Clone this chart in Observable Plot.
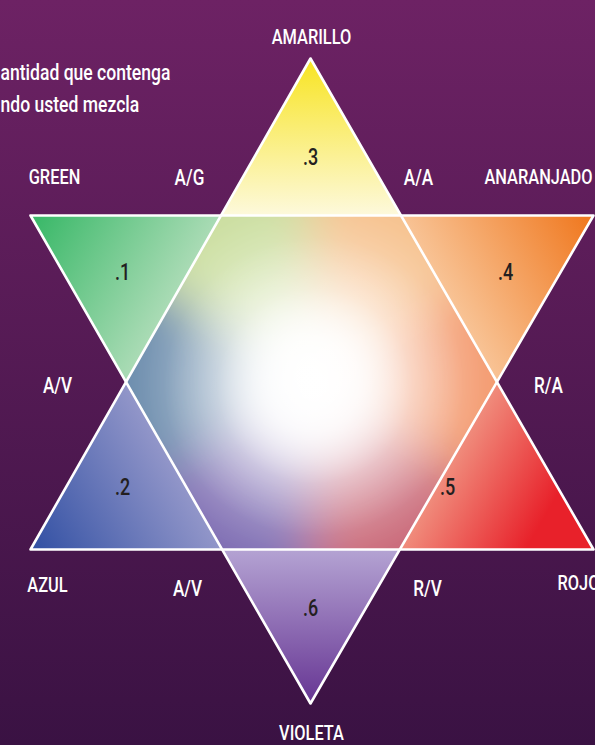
<!DOCTYPE html>
<html>
<head>
<meta charset="utf-8">
<script src="https://cdn.jsdelivr.net/npm/d3@7"></script>
<script src="https://cdn.jsdelivr.net/npm/@observablehq/plot@0.6"></script>
<style>
html, body { margin: 0; padding: 0; width: 595px; height: 745px; overflow: hidden; background: #3a1243; }
#chart svg { display: block; }
</style>
</head>
<body>
<div id="chart"></div>
<script>
// ---------- data ----------
const introLines = ["antidad que contenga", "ndo usted mezcla"];
const tipNames  = ["AMARILLO", "ANARANJADO", "ROJO", "VIOLETA", "AZUL", "GREEN"];
const tipShares = [".3", ".4", ".5", ".6", ".2", ".1"];
const mixNames  = ["A/G", "A/A", "R/A", "R/V", "A/V", "A/V"];
// the two big triangles of the star (chart units)
const upTriangle   = [{x: 310, y: 58}, {x: 593, y: 549}, {x: 30, y: 549}];
const downTriangle = [{x: 30, y: 215}, {x: 593, y: 215}, {x: 310, y: 703}];

// ---------- styles ----------
const tipColors   = ["#f8e52a", "#f07a22", "#e8212a", "#6a3a96", "#3653a5", "#3cb96a"];
const paleColors  = ["#fdf9dc", "#f8c395", "#f08c7c", "#b4a3d3", "#9296c9", "#aadbb5"];
const tipHold     = [0.05, 0.05, 0.35, 0.05, 0.05, 0.05];
const blendColors = ["#c9dd9c", "#f6c08a", "#f3976a", "#c86474", "#7a68b0", "#6688aa"];
const squeeze = 0.78; // condensed lettering

// ---------- layout of labels ----------
const tipNameAt  = [[311, 37, "middle"], [538, 177, "middle"], [557, 583, "start"], [311, 733, "middle"], [47, 585, "middle"], [54, 177, "middle"]];
const tipShareAt = [[310, 157], [505, 272], [447, 487], [310, 608], [122, 487], [122, 272]];
const mixAt      = [[189, 177], [418, 177], [548, 385], [427, 588], [187, 588], [57, 385]];
const introAt    = [[0, 72], [0, 104]];

// ---------- geometry derived from the two triangles ----------
function intersect([p1, p2], [p3, p4]) {
  const d = (p1.x - p2.x) * (p3.y - p4.y) - (p1.y - p2.y) * (p3.x - p4.x);
  const t = ((p1.x - p3.x) * (p3.y - p4.y) - (p1.y - p3.y) * (p3.x - p4.x)) / d;
  return {x: p1.x + t * (p2.x - p1.x), y: p1.y + t * (p2.y - p1.y)};
}
const [u0, u1, u2] = upTriangle, [d0, d1, d2] = downTriangle;
const U0 = [u0, u1], U1 = [u1, u2], U2 = [u2, u0];
const D0 = [d0, d1], D1 = [d1, d2], D2 = [d2, d0];
const hexagon = [intersect(U2, D0), intersect(U0, D0), intersect(U0, D1), intersect(U1, D1), intersect(U1, D2), intersect(U2, D2)];
const tips = [u0, d1, u1, d2, u2, d0];
const tipTriangles = tips.map((t, i) => [t, hexagon[i], hexagon[(i + 1) % 6]]);
const center = {x: d3.mean(hexagon, d => d.x), y: d3.mean(hexagon, d => d.y)};
const mid = (a, b) => ({x: (a.x + b.x) / 2, y: (a.y + b.y) / 2});
const ext = (p, k = 1.6) => ({x: center.x + k * (p.x - center.x), y: center.y + k * (p.y - center.y)});
const wedges = hexagon.flatMap((v, i) => {
  const prev = hexagon[(i + 5) % 6], next = hexagon[(i + 1) % 6];
  return [center, ext(mid(prev, v)), ext(v), ext(mid(v, next))].map(p => ({...p, id: "v" + i}));
});

const W = 595, H = 745;
const font = "Roboto, 'Noto Sans', sans-serif";

const chart = Plot.plot({
  width: W, height: H,
  margin: 0,
  x: {domain: [0, W], range: [0, W], axis: null},
  y: {domain: [0, H], range: [0, H], axis: null},
  color: {domain: hexagon.map((d, i) => "v" + i), range: hexagon.map((d, i) => `url(#wedge${i})`)},
  style: {background: "linear-gradient(#6d2264, #3a1243)", overflow: "hidden"},
  marks: [
    // outer points of the star
    ...tipTriangles.map((tri, i) => Plot.line(tri, {x: "x", y: "y", curve: "linear-closed", fill: `url(#tip${i})`, stroke: "none"})),
    // center hexagon: white base, blended colours fading to white
    Plot.line(hexagon, {x: "x", y: "y", curve: "linear-closed", fill: "white", stroke: "none"}),
    Plot.line(wedges, {x: "x", y: "y", z: "id", fill: "id", curve: "linear-closed", stroke: "none", ariaDescription: "hexblend"}),
    Plot.line(hexagon, {x: "x", y: "y", curve: "linear-closed", fill: "url(#glow)", stroke: "none"}),
    // white outlines
    Plot.line(upTriangle, {x: "x", y: "y", curve: "linear-closed", fill: "none", stroke: "white", strokeWidth: 2.6}),
    Plot.line(downTriangle, {x: "x", y: "y", curve: "linear-closed", fill: "none", stroke: "white", strokeWidth: 2.6}),
    // labels
    Plot.text(tipNames, {x: (d, i) => tipNameAt[i][0], y: (d, i) => tipNameAt[i][1], text: d => d,
      textAnchor: "middle", filter: (d, i) => tipNameAt[i][2] === "middle", fill: "white", fontSize: 21, fontWeight: 500, fontFamily: font}),
    Plot.text(tipNames, {x: (d, i) => tipNameAt[i][0], y: (d, i) => tipNameAt[i][1], text: d => d,
      textAnchor: "start", filter: (d, i) => tipNameAt[i][2] === "start", fill: "white", fontSize: 21, fontWeight: 500, fontFamily: font}),
    Plot.text(mixNames, {x: (d, i) => mixAt[i][0], y: (d, i) => mixAt[i][1], text: d => d,
      fill: "white", fontSize: 22, fontWeight: 500, fontFamily: font}),
    Plot.text(tipShares, {x: (d, i) => tipShareAt[i][0], y: (d, i) => tipShareAt[i][1], text: d => d,
      fill: "#231f20", fontSize: 23, fontWeight: 500, fontFamily: font}),
    Plot.text(introLines, {x: (d, i) => introAt[i][0], y: (d, i) => introAt[i][1], text: d => d,
      textAnchor: "start", fill: "white", fontSize: 22.5, fontWeight: 500, fontFamily: font})
  ]
});

// ---------- gradients, blur, clip ----------
const sx = chart.scale("x"), sy = chart.scale("y");
const X = d3.scaleLinear(sx.domain, sx.range), Y = d3.scaleLinear(sy.domain, sy.range);
const svg = d3.select(chart);
const defs = svg.insert("defs", ":first-child");
tipTriangles.forEach((tri, i) => {
  const base = mid(tri[1], tri[2]);
  const g = defs.append("linearGradient").attr("id", `tip${i}`).attr("gradientUnits", "userSpaceOnUse")
    .attr("x1", X(tri[0].x)).attr("y1", Y(tri[0].y)).attr("x2", X(base.x)).attr("y2", Y(base.y));
  g.append("stop").attr("offset", 0).attr("stop-color", tipColors[i]);
  g.append("stop").attr("offset", tipHold[i]).attr("stop-color", tipColors[i]);
  g.append("stop").attr("offset", 1).attr("stop-color", paleColors[i]);
});
hexagon.forEach((v, i) => {
  const r = Math.hypot(X(v.x) - X(center.x), Y(v.y) - Y(center.y));
  const g = defs.append("radialGradient").attr("id", `wedge${i}`).attr("gradientUnits", "userSpaceOnUse")
    .attr("cx", X(center.x)).attr("cy", Y(center.y)).attr("r", r);
  g.append("stop").attr("offset", 0).attr("stop-color", "white");
  g.append("stop").attr("offset", 0.22).attr("stop-color", "white");
  g.append("stop").attr("offset", 0.6).attr("stop-color", d3.interpolateRgb("white", blendColors[i])(0.6));
  g.append("stop").attr("offset", 1).attr("stop-color", blendColors[i]);
});
const glow = defs.append("radialGradient").attr("id", "glow").attr("gradientUnits", "userSpaceOnUse")
  .attr("cx", X(center.x + 3)).attr("cy", Y(center.y + 4)).attr("r", X(150) - X(0));
[[0, 0.9], [0.3, 0.7], [0.65, 0.2], [1, 0]].forEach(([o, a]) =>
  glow.append("stop").attr("offset", o).attr("stop-color", "white").attr("stop-opacity", a));
defs.append("filter").attr("id", "soft").attr("filterUnits", "userSpaceOnUse")
  .attr("x", 0).attr("y", 0).attr("width", W).attr("height", H)
  .append("feGaussianBlur").attr("stdDeviation", 24);
defs.append("clipPath").attr("id", "hexclip").append("polygon")
  .attr("points", hexagon.map(p => `${X(p.x)},${Y(p.y)}`).join(" "));
svg.select("g[aria-description='hexblend']").attr("filter", "url(#soft)").attr("clip-path", "url(#hexclip)");

document.getElementById("chart").append(chart);

// condensed lettering, as in the original
chart.querySelectorAll("text").forEach(t => {
  const len = t.getComputedTextLength();
  t.setAttribute("textLength", len * squeeze);
  t.setAttribute("lengthAdjust", "spacingAndGlyphs");
});
</script>
</body>
</html>
